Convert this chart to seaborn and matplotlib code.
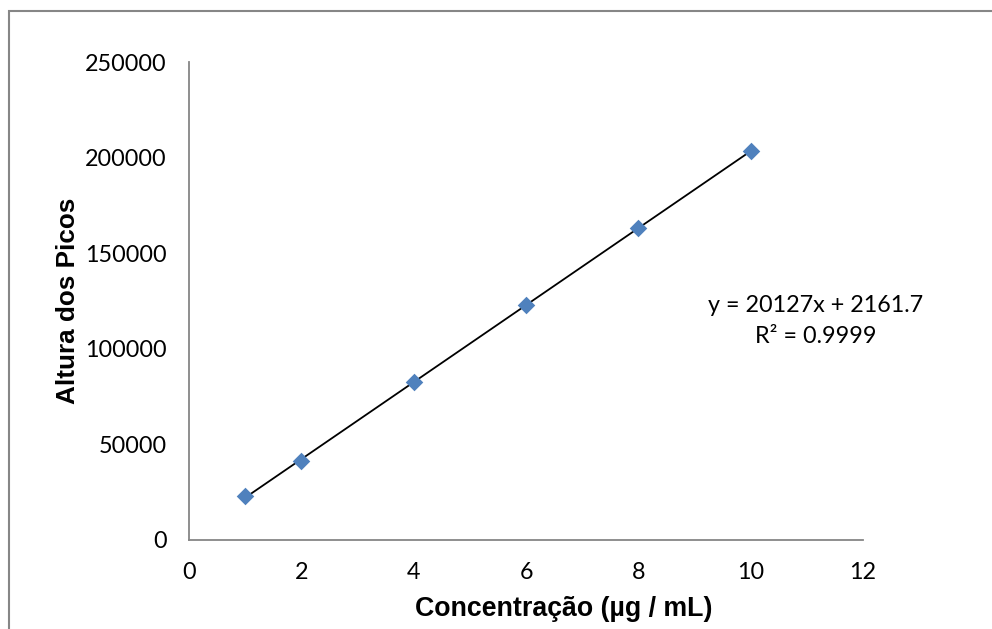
import numpy as np
import pandas as pd
import matplotlib
matplotlib.use('Agg')
import matplotlib.pyplot as plt
import seaborn as sns
from matplotlib.patches import Rectangle

# Calibration data (concentration vs peak height)
concentracao = [1, 2, 4, 6, 8, 10]
altura = [22800, 41500, 82500, 123000, 163000, 203500]
x_ticks = [0, 2, 4, 6, 8, 10, 12]
y_ticks = [0, 50000, 100000, 150000, 200000, 250000]
equacao = "y = 20127x + 2161.7"
r2_texto = "R² = 0.9999"

sns.set_style('white')
plt.rcParams['font.family'] = ['Lato', 'DejaVu Sans']
plt.rcParams['text.color'] = 'black'
plt.rcParams['axes.labelcolor'] = 'black'

df = pd.DataFrame({'conc': concentracao, 'altura': altura})

fig = plt.figure(figsize=(9.92, 6.29), dpi=100)
ax = fig.add_axes([0.1905, 0.1415, 0.6795, 0.7599])

sns.regplot(data=df, x='conc', y='altura', ax=ax, ci=None,
            marker='D',
            scatter_kws={'color': '#4F81BD', 's': 80, 'linewidths': 0, 'alpha': 1, 'zorder': 3},
            line_kws={'color': 'black', 'linewidth': 1.3, 'zorder': 2})

ax.set_xlim(0, 12)
ax.set_ylim(0, 250000)
ax.set_xticks(x_ticks)
ax.set_yticks(y_ticks)
ax.set_xticklabels([str(t) for t in x_ticks])
ax.set_yticklabels([str(t) for t in y_ticks])

gray = '#868686'
for side in ['top', 'right']:
    ax.spines[side].set_visible(False)
for side in ['left', 'bottom']:
    ax.spines[side].set_color(gray)
    ax.spines[side].set_linewidth(1.3)
ax.tick_params(axis='both', direction='out', length=6, width=1.3, color=gray,
               labelsize=16.8, labelcolor='black', pad=10)

ax.set_xlabel('Concentração (µg / mL)', fontsize=19.3, fontweight='bold',
              family=['Liberation Sans', 'DejaVu Sans'], color='black')
ax.xaxis.set_label_coords(0.556, -0.118)
ax.set_ylabel('Altura dos Picos', fontsize=18.8, fontweight='bold',
              family=['Liberation Sans', 'DejaVu Sans'], color='black', labelpad=4)

ax.text(11.15, 114500, equacao + "\n" + r2_texto, fontsize=16.8, ha='center', va='center',
        linespacing=1.55)

# chart area border (cropped on right and bottom in original)
fig.patches.append(Rectangle((9 / 992, -0.1), 1.2, 1 - 11 / 629 + 0.1, transform=fig.transFigure,
                             fill=False, edgecolor=gray, linewidth=1.5))

fig.savefig('out.png', dpi=100)
